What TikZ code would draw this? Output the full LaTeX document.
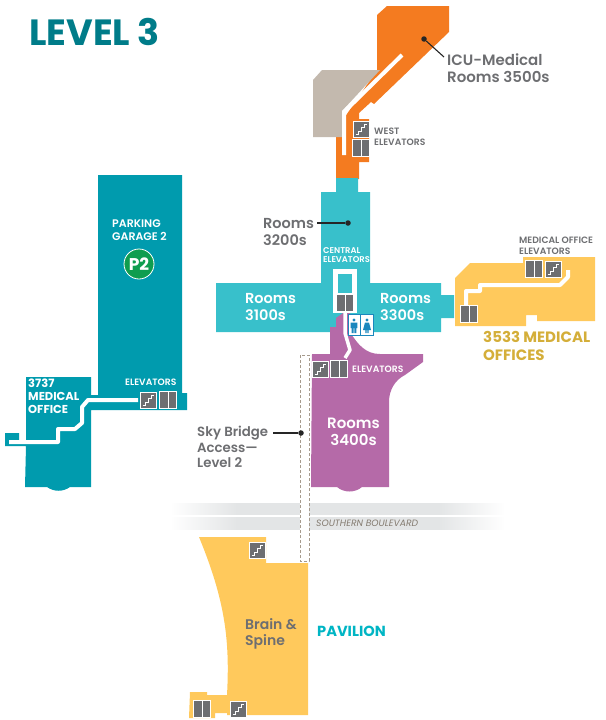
\documentclass[tikz,border=0pt]{standalone}
\usepackage{fontspec}
\setmainfont{Poppins}[BoldFont={Poppins SemiBold}]
\newfontfamily\heavy{Poppins}
\definecolor{cteal}{HTML}{38C0CB}
\definecolor{gteal}{HTML}{009BAE}
\definecolor{corange}{HTML}{F47B20}
\definecolor{cbeige}{HTML}{C3B9AE}
\definecolor{cpurple}{HTML}{B56AA8}
\definecolor{cyellow}{HTML}{FFC95C}
\definecolor{ctitle}{HTML}{007C89}
\definecolor{cgrey}{HTML}{6D6E71}
\definecolor{cgold}{HTML}{D4AE39}
\definecolor{cpav}{HTML}{00B5C4}
\definecolor{croad}{HTML}{E3E5E6}
\definecolor{cdash}{HTML}{A59A8C}
\definecolor{cgreen}{HTML}{0F9D4F}
\definecolor{cblue}{HTML}{1B87BD}
\pgfdeclarehorizontalshading{roadfade}{100bp}{color(0bp)=(white); color(25bp)=(white); color(35bp)=(croad); color(65bp)=(croad); color(75bp)=(white); color(100bp)=(white)}
\newcommand\fsz[1]{\fontsize{#1}{#1}\selectfont\setlength\baselineskip{1.15\baselineskip}}
\tikzset{
 x=1pt,y=-1pt,
 corridor/.style={draw=white,line width=4pt,line join=round},
 lbl/.style={inner sep=0pt,anchor=west,align=left,font=\bfseries\fsz{#1}},
 hvy/.style={inner sep=0pt,anchor=west,align=left,font=\heavy\bfseries\fsz{#1}},
 dotmark/.style={circle,fill=black!85,inner sep=0pt,minimum size=5.5pt},
 leader/.style={draw=black!85,line width=1.1pt},
 stairicon/.pic={
  \fill[cgrey,draw=white,line width=.8pt] (0,0) rectangle (16,16);
  \draw[white,line width=.8pt] (2.5,13.5) -- (5.5,13.5) -- (5.5,10) -- (8.5,10) -- (8.5,6.5) -- (11,6.5) -- (11,3) -- (14,3);
 },
 elevicon/.pic={
  \fill[white] (-.6,-.6) rectangle (16.6,16.6);
  \fill[cgrey] (.4,.4) rectangle (7.6,15.6);
  \fill[cgrey] (8.6,.4) rectangle (15.6,15.6);
 },
}
\begin{document}
\begin{tikzpicture}
\useasboundingbox (0,0) rectangle (605,720);
% title
\node[hvy=36.5,text=ctitle] (title) at (29,32) {LEVEL 3};
% roads
\shade[shading=roadfade] (170,503) rectangle (505,514);
\shade[shading=roadfade] (170,517) rectangle (505,529);
\fill[white] (300,500) rectangle (309,532);
\node[inner sep=0pt,anchor=west,text=cdash!80!black,font=\itshape\fontsize{9.2}{11}\selectfont] (road) at (316,523) {SOUTHERN BOULEVARD};
% orange + beige
\fill[corange] (387,6) -- (449,6) -- (449,32) -- (374,104) -- (371,102) -- (359,113) -- (359,119) -- (369,119) -- (369,162) -- (359,162) -- (359,179) -- (336,179) -- (336,130) -- (377,70) -- (377,15) -- cycle;
\fill[cbeige] (322,70) -- (380,70) -- (342,111) -- (342,137) -- (313,137) -- (313,80) -- cycle;
\draw[corridor,line join=miter] (402,55) -- (344,112) -- (344,155);
\pic at (353,121) {stairicon};
\pic at (353,140) {elevicon};
% teal central
\fill[cteal] (336,178) -- (358,178) -- (358,192) -- (370,192) -- (370,283) -- (441,283) -- (441,295) -- (454,295) -- (454,318) -- (441,318) -- (441,332) -- (330,332) -- (216,332) -- (216,283) -- (321,283) -- (321,192) -- (336,192) -- cycle;
% yellow offices
\fill[cyellow] (455,278) -- (470,263) -- (523,263) -- (523,257) -- (595,257) -- (595,321) -- (537,321) -- (537,315) -- (526,315) -- (526,326) -- (455,326) -- cycle;
\draw[corridor] (568,270) -- (568,277) -- (560,285) -- (480,285) -- (480,291) -- (466,291) -- (466,306);
\pic at (526,261) {elevicon};
\pic at (545,261) {stairicon};
\pic at (461,306) {elevicon};
% purple
\fill[cpurple] (312,354) -- (330,354) -- (330,327) -- (336,327) -- (336,318) -- (343,313) -- (350,313) -- (350,332) .. controls (358,345) and (366,354) .. (380,354) -- (423,354) -- (423,362) -- (405,375) .. controls (395,380) and (389,390) .. (389,402) -- (389,487) -- (362,487) .. controls (355,493) and (344,493) .. (337,487) -- (311,487) -- cycle;
\draw[corridor,line width=3.5pt] (345,313) -- (345,333) -- (350,350) -- (345,358);
% central frame
\fill[white] (333,269) rectangle (357,313);
\fill[cteal] (338,274) rectangle (352,293);
\pic at (337,295) {elevicon};
% restroom
\fill[white,draw=cblue,line width=1pt] (348,314) rectangle (373,335);
\draw[cblue,line width=.8pt] (360.5,314) -- (360.5,335);
\fill[cblue] (354,320) circle (1.7) (350.7,322.5) rectangle (357.3,328) (351.7,328) rectangle (353.7,333) (354.3,328) rectangle (356.3,333);
\fill[cblue] (367,320) circle (1.7) (365,322.5) -- (369,322.5) -- (371,330) -- (363,330) -- cycle (365.3,330) rectangle (366.7,333) (367.3,330) rectangle (368.7,333);
\pic at (312,361) {stairicon};
\pic at (331,361) {elevicon};
% garage + 3737
\fill[gteal] (98,175) -- (182,175) -- (182,393) -- (187,393) -- (187,410) -- (91,410) -- (91,487) -- (70,487) .. controls (63,492) and (54,492) .. (47,487) -- (25,487) -- (26,446) -- (5,446) -- (5,433) -- (19,433) -- (19,440) -- (26,440) -- (26,377) -- (91,377) -- (91,395) -- (98,395) -- cycle;
\draw[corridor] (138,400) -- (88,400) -- (82,407) -- (82,423) -- (75,429) -- (58,429) -- (58,442) -- (9,442);
\pic at (140,392) {stairicon};
\pic at (160,392) {elevicon};
% P2
\node[circle,fill=cgreen,draw=white,line width=.8pt,minimum size=30pt,inner sep=0pt,text=white,font=\heavy\bfseries\fontsize{17}{17}\selectfont] (p2) at (139,264) {P2};
% bottom yellow
\fill[cyellow] (199,537) -- (266,537) -- (266,563) -- (308,563) -- (308,715) -- (227,715) -- (227,713) -- (215,713) -- (215,718) -- (189,718) -- (190,692) -- (207,692) -- (207,695) -- (227,695) .. controls (230,640) and (225,600) .. (199,537) -- cycle;
\pic at (249,542) {stairicon};
\pic at (194,701) {elevicon};
\pic at (230,701) {stairicon};
% bridge
\draw[cdash,densely dashed,line width=.8pt] (300,355) rectangle (309,561);
% labels
\node[lbl=15,text=cgrey] (icu) at (447,68) {ICU-Medical\\Rooms 3500s};
\node[lbl=9.2,text=cgrey] (west) at (374,137) {WEST\\ELEVATORS};
\node[lbl=14.5,text=cgrey] (r32) at (263,232) {Rooms\\3200s};
\node[lbl=8.4,text=white] (central) at (323,255) {CENTRAL\\ELEVATORS};
\node[lbl=14.5,text=white] (r31) at (245,307) {Rooms\\3100s};
\node[lbl=14.5,text=white] (r33) at (380,307) {Rooms\\3300s};
\node[lbl=15,text=white,align=center] (r34) at (327,432) {Rooms\\3400s};
\node[lbl=9.2,text=white] (el1) at (352,369) {ELEVATORS};
\node[lbl=9.2,text=white] (el2) at (125,382) {ELEVATORS};
\node[hvy=11.5,text=white] (m37) at (28,396) {3737\\MEDICAL\\OFFICE};
\node[lbl=11,text=white] (pg) at (112,230) {PARKING\\GARAGE 2};
\node[lbl=9.2,text=cgrey] (moe) at (519,246) {MEDICAL OFFICE\\ELEVATORS};
\node[hvy=15,text=cgold] (m35) at (483,346) {3533 MEDICAL\\OFFICES};
\node[lbl=13.3,text=cgrey] (sky) at (197,447) {Sky Bridge\\Access—\\Level 2};
\node[lbl=14,text=cgrey] (brain) at (245,634) {Brain \&\\Spine};
\node[hvy=14.6,text=cpav] (pav) at (317,631) {PAVILION};
% leaders
\node[dotmark] (d1) at (424,39) {};
\coordinate (e1) at (444,57);
\draw[leader] (d1) -- (e1);
\node[dotmark] (d2) at (348,223) {};
\coordinate (e2) at (317,223);
\draw[leader] (d2) -- (e2);
\node[dotmark] (d3) at (301,433) {};
\coordinate (e3) at (273,433);
\draw[leader] (d3) -- (e3);
\end{tikzpicture}
\end{document}
